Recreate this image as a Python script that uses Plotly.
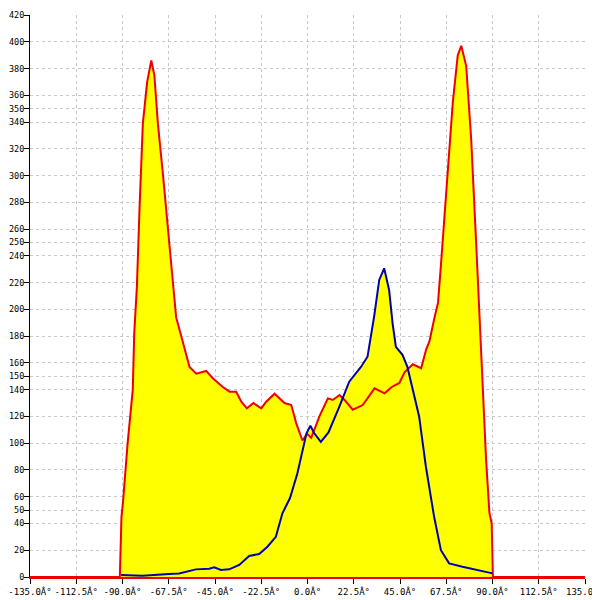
import plotly.graph_objects as go

# angle distribution - red/yellow area and blue curve
red_x = [-135, -91.3, -90.5, -89.7, -87.5, -85, -84.3, -83.5, -83, -81.7, -80.1, -78, -76,
         -74.5, -72.8, -70.4, -68, -65.5, -63.9, -61.4, -57.4, -54.1, -49.3, -46.1, -41.2,
         -37.9, -34.7, -32.2, -29.5, -26.3, -22.5, -20.1, -16, -11.2, -7.9, -5.5, -2.5,
         -0.2, 1.8, 5.8, 9.9, 12.3, 15.6, 18, 22, 26.9, 32.6, 37.5, 41, 44.7, 47.2, 51.2,
         55.3, 57.7, 59.3, 61.8, 63.5, 65, 67.5, 70.7, 73.1, 74.8, 77.2, 79.6, 82.1, 84.5,
         86.9, 88.5, 89.6, 90.2, 135]
red_y = [0, 0, 45, 57, 100, 140, 182, 207, 217, 276, 339, 370, 386,
         375, 339, 302, 262, 217, 194, 180, 157, 152, 154, 148.5, 142,
         138.5, 138.5, 131, 126, 130, 126, 131, 137, 130, 128.5, 115, 102,
         107, 104, 120, 133.5, 132.3, 136, 132.3, 125, 128.5, 141, 137.3, 142, 145, 153, 159,
         156, 170, 176, 194, 205, 235, 288, 355, 390, 397, 382, 328, 248, 168,
         87, 48, 40, 0, 0]

blue_x = [-90.7, -90, -80.3, -67.3, -62.4, -54.3, -47.8, -45.4, -42.1, -38.1, -33.2, -28.4,
          -23.5, -19.5, -15.4, -12.2, -8.5, -4.9, -2.4, -0.5, 1.4, 3.3, 6.5, 10.2, 15.4,
          20.3, 26, 29.2, 32.4, 34.9, 37.3, 39.7, 41.4, 43, 46.2, 48.6, 54.3, 57.6, 61.6,
          64.9, 68.9, 75.4, 90]
blue_y = [1.5, 1.5, 1, 2.2, 2.7, 5.7, 6.2, 7.2, 5.2, 5.7, 9, 15.7,
          17.2, 22.6, 30, 47.6, 59, 77.5, 95, 107.4, 113, 107.4, 101, 108, 127,
          146, 157, 164.6, 194.5, 222, 230.7, 214.5, 189.6, 172, 166, 157, 120, 82.4, 45,
          20, 10.2, 7.7, 2.7]

x_ticks = [-135 + 22.5 * i for i in range(13)]
x_labels = ["%.1fÂ°" % v for v in x_ticks]
y_ticks = [0, 20, 40, 50, 60, 80, 100, 120, 140, 150, 160, 180, 200, 220, 240, 250,
           260, 280, 300, 320, 340, 350, 360, 380, 400, 420]

fig = go.Figure()
# fills first so both lines stay on top
fig.add_trace(go.Scatter(x=red_x, y=red_y, mode="lines", fill="tozeroy",
                         fillcolor="#ffff00", line=dict(width=0)))
fig.add_trace(go.Scatter(x=blue_x, y=blue_y, mode="lines", fill="tozeroy",
                         fillcolor="#ffff00", line=dict(width=0)))
fig.add_trace(go.Scatter(x=red_x, y=red_y, mode="lines",
                         line=dict(color="#ee0000", width=2)))
fig.add_trace(go.Scatter(x=blue_x, y=blue_y, mode="lines",
                         line=dict(color="#0000b4", width=2)))

grid = dict(showgrid=True, gridcolor="#c8c8c8", griddash="3px,3px", gridwidth=1,
            zeroline=False, automargin=False, ticks="outside", ticklen=5,
            tickcolor="black")
fig.update_xaxes(range=[-135, 135], tickvals=x_ticks, ticktext=x_labels,
                 tickfont=dict(family="DejaVu Sans Mono", size=9, color="black"),
                 showline=True, linecolor="#ee0000", linewidth=2, **grid)
fig.update_yaxes(range=[0, 420], tickvals=y_ticks, ticklabelstandoff=-2,
                 tickfont=dict(family="DejaVu Sans Mono", size=8.5, color="black"),
                 showline=True, linecolor="black", linewidth=1, **grid)
# page body adds an 8px offset, margins compensate for it
fig.update_layout(width=600, height=600, showlegend=False,
                  plot_bgcolor="white", paper_bgcolor="white",
                  margin=dict(l=22, r=23, t=7, b=31))

fig.write_html("out.html")
